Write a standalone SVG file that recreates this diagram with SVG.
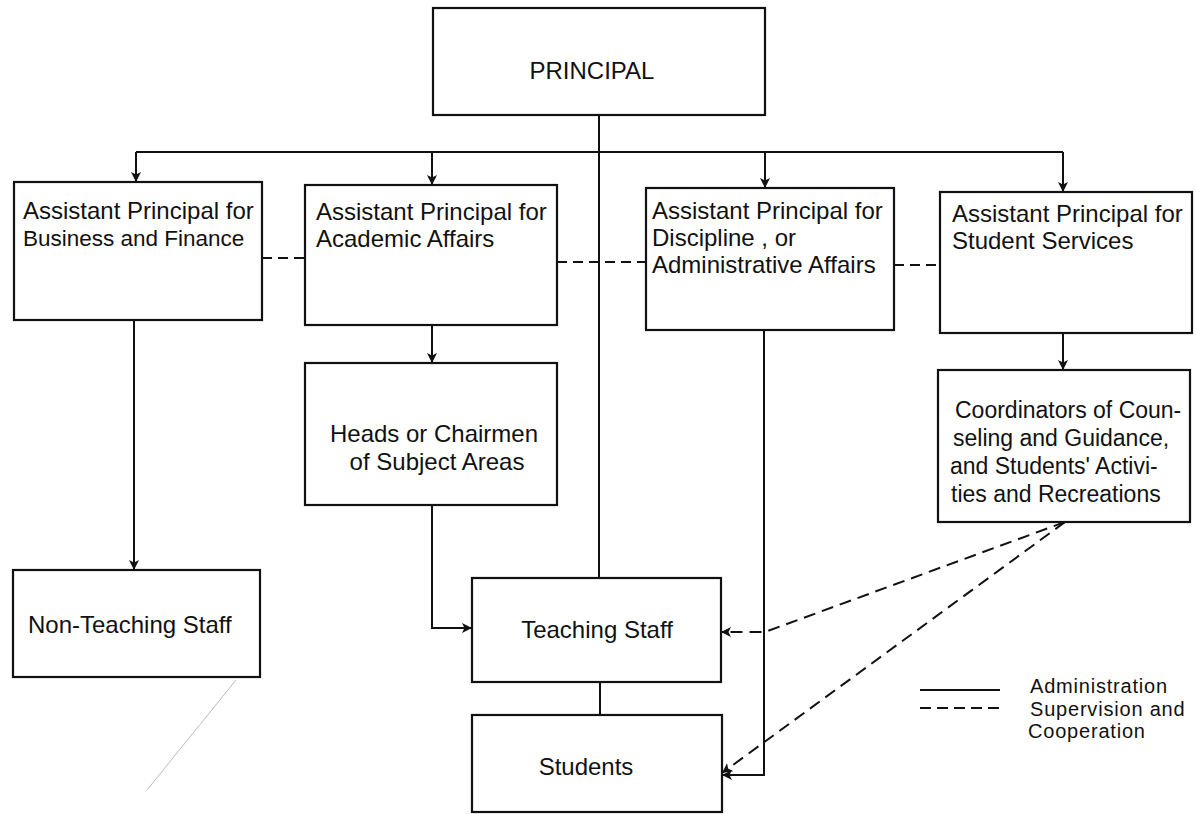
<svg xmlns="http://www.w3.org/2000/svg" width="1196" height="814" viewBox="0 0 1196 814">
<style>
.box{fill:#fff;stroke:#111;stroke-width:2.2}
.t{font-family:"Liberation Sans",Arial,sans-serif;font-size:24px;fill:#111}
.s{font-size:23px}
.lg{font-size:20px;letter-spacing:0.8px}
.c{text-anchor:middle}
.ln{fill:none;stroke:#111;stroke-width:2}
.dash{fill:none;stroke:#111;stroke-width:2;stroke-dasharray:12 7}
</style>
<defs>
<marker id="arr" markerUnits="userSpaceOnUse" markerWidth="11" markerHeight="10" refX="10" refY="5" orient="auto">
<path d="M0,0 L10,5 L0,10 L2.5,5 z" fill="#111"/>
</marker>
</defs>
<rect width="1196" height="814" fill="#fff"/>
<line x1="147" y1="790" x2="236" y2="680" stroke="#aaa" stroke-width="0.8"/>
<g id="connectors">
<line class="ln" x1="599" y1="115" x2="599" y2="578"/>
<line class="ln" x1="136" y1="152" x2="1063" y2="152"/>
<line class="ln" x1="136" y1="152" x2="136" y2="182" marker-end="url(#arr)"/>
<line class="ln" x1="432" y1="152" x2="432" y2="185" marker-end="url(#arr)"/>
<line class="ln" x1="765" y1="152" x2="765" y2="188" marker-end="url(#arr)"/>
<line class="ln" x1="1063" y1="152" x2="1063" y2="192" marker-end="url(#arr)"/>
<line class="ln" x1="134" y1="320" x2="134" y2="570" marker-end="url(#arr)"/>
<line class="ln" x1="432" y1="325" x2="432" y2="363" marker-end="url(#arr)"/>
<polyline class="ln" points="432,505 432,628 472,628" marker-end="url(#arr)"/>
<line class="ln" x1="600" y1="682" x2="600" y2="715"/>
<polyline class="ln" points="764,330 764,775 722,775" marker-end="url(#arr)"/>
<line class="ln" x1="1063" y1="333" x2="1063" y2="370" marker-end="url(#arr)"/>
<line class="dash" x1="262" y1="258" x2="305" y2="258" style="stroke-dasharray:10 6"/>
<line class="dash" x1="557" y1="262" x2="646" y2="262" style="stroke-dasharray:10 6"/>
<line class="dash" x1="894" y1="265" x2="940" y2="265" style="stroke-dasharray:10 6"/>
<polyline class="dash" points="1065,522 765,632 721,632" marker-end="url(#arr)"/>
<line class="dash" x1="1065" y1="522" x2="722" y2="773" marker-end="url(#arr)"/>
</g>
<g id="principal">
<rect class="box" x="433" y="8" width="332" height="107"/>
<text class="t c" x="592" y="79">PRINCIPAL</text>
</g>
<g id="ap-business">
<rect class="box" x="14" y="182" width="248" height="138"/>
<text class="t" x="23" y="219">Assistant Principal for</text>
<text class="t" x="23" y="246" style="font-size:22.5px">Business and Finance</text>
</g>
<g id="ap-academic">
<rect class="box" x="305" y="185" width="252" height="140"/>
<text class="t" x="316" y="220">Assistant Principal for</text>
<text class="t" x="316" y="247">Academic Affairs</text>
</g>
<g id="ap-discipline">
<rect class="box" x="646" y="188" width="248" height="142"/>
<text class="t" x="652" y="219">Assistant Principal for</text>
<text class="t" x="652" y="246">Discipline , or</text>
<text class="t" x="652" y="273">Administrative Affairs</text>
</g>
<g id="ap-student">
<rect class="box" x="940" y="192" width="252" height="141"/>
<text class="t" x="952" y="222">Assistant Principal for</text>
<text class="t" x="952" y="249">Student Services</text>
</g>
<g id="heads">
<rect class="box" x="305" y="363" width="252" height="142"/>
<text class="t c" x="434" y="442">Heads or Chairmen</text>
<text class="t c" x="437" y="470">of Subject Areas</text>
</g>
<g id="coordinators">
<rect class="box" x="938" y="370" width="252" height="152"/>
<text class="t s" x="955" y="418">Coordinators of Coun-</text>
<text class="t s" x="953" y="446">seling and Guidance,</text>
<text class="t s" x="950" y="474">and Students' Activi-</text>
<text class="t s" x="951" y="502">ties and Recreations</text>
</g>
<g id="non-teaching">
<rect class="box" x="13" y="570" width="247" height="107"/>
<text class="t" x="28" y="633">Non-Teaching Staff</text>
</g>
<g id="teaching">
<rect class="box" x="472" y="578" width="249" height="104"/>
<text class="t c" x="597" y="638">Teaching Staff</text>
</g>
<g id="students">
<rect class="box" x="472" y="715" width="250" height="97"/>
<text class="t c" x="586" y="775">Students</text>
</g>
<g id="legend">
<line class="ln" x1="920" y1="690" x2="1000" y2="690"/>
<line class="dash" x1="920" y1="708" x2="1000" y2="708" style="stroke-dasharray:11 6"/>
<text class="t lg" x="1030" y="693">Administration</text>
<text class="t lg" x="1030" y="715.5">Supervision and</text>
<text class="t lg" x="1028" y="738">Cooperation</text>
</g>
</svg>
